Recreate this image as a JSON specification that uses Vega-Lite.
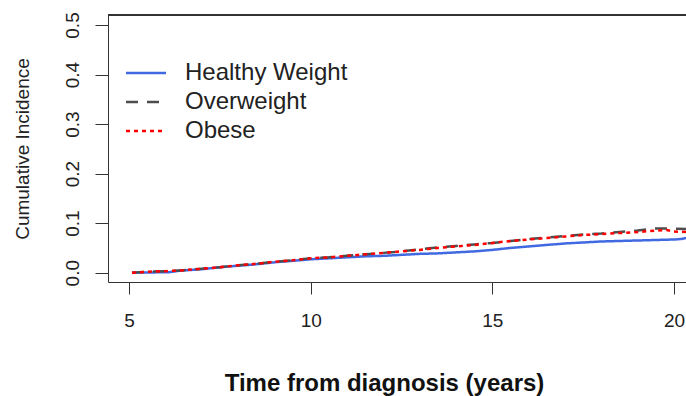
{
  "$schema": "https://vega.github.io/schema/vega-lite/v6.json",
  "width": 578,
  "height": 267,
  "autosize": {"type": "none"},
  "padding": {"left": 108, "top": 15, "right": 0, "bottom": 114},
  "background": "white",
  "config": {
    "view": {"stroke": null},
    "font": "Liberation Sans"
  },
  "data": {
    "values": [
      {"t": 5.08, "ci": 0.0, "group": "Healthy Weight"},
      {"t": 6.1, "ci": 0.001, "group": "Healthy Weight"},
      {"t": 6.4, "ci": 0.004, "group": "Healthy Weight"},
      {"t": 7.0, "ci": 0.007, "group": "Healthy Weight"},
      {"t": 7.5, "ci": 0.011, "group": "Healthy Weight"},
      {"t": 8.0, "ci": 0.014, "group": "Healthy Weight"},
      {"t": 8.5, "ci": 0.017, "group": "Healthy Weight"},
      {"t": 9.0, "ci": 0.021, "group": "Healthy Weight"},
      {"t": 9.5, "ci": 0.024, "group": "Healthy Weight"},
      {"t": 10.0, "ci": 0.027, "group": "Healthy Weight"},
      {"t": 10.5, "ci": 0.029, "group": "Healthy Weight"},
      {"t": 11.0, "ci": 0.031, "group": "Healthy Weight"},
      {"t": 11.5, "ci": 0.033, "group": "Healthy Weight"},
      {"t": 12.0, "ci": 0.034, "group": "Healthy Weight"},
      {"t": 12.5, "ci": 0.036, "group": "Healthy Weight"},
      {"t": 13.0, "ci": 0.038, "group": "Healthy Weight"},
      {"t": 13.5, "ci": 0.039, "group": "Healthy Weight"},
      {"t": 14.0, "ci": 0.041, "group": "Healthy Weight"},
      {"t": 14.5, "ci": 0.043, "group": "Healthy Weight"},
      {"t": 15.0, "ci": 0.046, "group": "Healthy Weight"},
      {"t": 15.5, "ci": 0.05, "group": "Healthy Weight"},
      {"t": 16.0, "ci": 0.053, "group": "Healthy Weight"},
      {"t": 16.5, "ci": 0.056, "group": "Healthy Weight"},
      {"t": 17.0, "ci": 0.059, "group": "Healthy Weight"},
      {"t": 17.5, "ci": 0.061, "group": "Healthy Weight"},
      {"t": 18.0, "ci": 0.063, "group": "Healthy Weight"},
      {"t": 18.5, "ci": 0.064, "group": "Healthy Weight"},
      {"t": 19.0, "ci": 0.065, "group": "Healthy Weight"},
      {"t": 19.5, "ci": 0.066, "group": "Healthy Weight"},
      {"t": 20.0, "ci": 0.067, "group": "Healthy Weight"},
      {"t": 20.2, "ci": 0.068, "group": "Healthy Weight"},
      {"t": 20.4, "ci": 0.071, "group": "Healthy Weight"},
      {"t": 5.08, "ci": 0.0, "group": "Overweight"},
      {"t": 5.5, "ci": 0.002, "group": "Overweight"},
      {"t": 6.0, "ci": 0.003, "group": "Overweight"},
      {"t": 6.5, "ci": 0.005, "group": "Overweight"},
      {"t": 7.0, "ci": 0.008, "group": "Overweight"},
      {"t": 7.5, "ci": 0.011, "group": "Overweight"},
      {"t": 8.0, "ci": 0.015, "group": "Overweight"},
      {"t": 8.5, "ci": 0.018, "group": "Overweight"},
      {"t": 9.0, "ci": 0.022, "group": "Overweight"},
      {"t": 9.5, "ci": 0.025, "group": "Overweight"},
      {"t": 10.0, "ci": 0.029, "group": "Overweight"},
      {"t": 10.5, "ci": 0.031, "group": "Overweight"},
      {"t": 11.0, "ci": 0.034, "group": "Overweight"},
      {"t": 11.5, "ci": 0.037, "group": "Overweight"},
      {"t": 12.0, "ci": 0.04, "group": "Overweight"},
      {"t": 12.5, "ci": 0.043, "group": "Overweight"},
      {"t": 13.0, "ci": 0.047, "group": "Overweight"},
      {"t": 13.5, "ci": 0.051, "group": "Overweight"},
      {"t": 14.0, "ci": 0.054, "group": "Overweight"},
      {"t": 14.5, "ci": 0.057, "group": "Overweight"},
      {"t": 15.0, "ci": 0.06, "group": "Overweight"},
      {"t": 15.5, "ci": 0.064, "group": "Overweight"},
      {"t": 16.0, "ci": 0.068, "group": "Overweight"},
      {"t": 16.5, "ci": 0.071, "group": "Overweight"},
      {"t": 17.0, "ci": 0.074, "group": "Overweight"},
      {"t": 17.5, "ci": 0.077, "group": "Overweight"},
      {"t": 18.0, "ci": 0.079, "group": "Overweight"},
      {"t": 18.5, "ci": 0.082, "group": "Overweight"},
      {"t": 19.0, "ci": 0.085, "group": "Overweight"},
      {"t": 19.4, "ci": 0.089, "group": "Overweight"},
      {"t": 20.0, "ci": 0.089, "group": "Overweight"},
      {"t": 20.4, "ci": 0.088, "group": "Overweight"},
      {"t": 5.08, "ci": 0.0, "group": "Obese"},
      {"t": 5.5, "ci": 0.002, "group": "Obese"},
      {"t": 6.0, "ci": 0.003, "group": "Obese"},
      {"t": 6.5, "ci": 0.005, "group": "Obese"},
      {"t": 7.0, "ci": 0.008, "group": "Obese"},
      {"t": 7.5, "ci": 0.011, "group": "Obese"},
      {"t": 8.0, "ci": 0.015, "group": "Obese"},
      {"t": 8.5, "ci": 0.018, "group": "Obese"},
      {"t": 9.0, "ci": 0.022, "group": "Obese"},
      {"t": 9.5, "ci": 0.025, "group": "Obese"},
      {"t": 10.0, "ci": 0.029, "group": "Obese"},
      {"t": 10.5, "ci": 0.031, "group": "Obese"},
      {"t": 11.0, "ci": 0.034, "group": "Obese"},
      {"t": 11.5, "ci": 0.037, "group": "Obese"},
      {"t": 12.0, "ci": 0.04, "group": "Obese"},
      {"t": 12.5, "ci": 0.043, "group": "Obese"},
      {"t": 13.0, "ci": 0.046, "group": "Obese"},
      {"t": 13.5, "ci": 0.05, "group": "Obese"},
      {"t": 14.0, "ci": 0.053, "group": "Obese"},
      {"t": 14.5, "ci": 0.056, "group": "Obese"},
      {"t": 15.0, "ci": 0.06, "group": "Obese"},
      {"t": 15.5, "ci": 0.064, "group": "Obese"},
      {"t": 16.0, "ci": 0.067, "group": "Obese"},
      {"t": 16.5, "ci": 0.07, "group": "Obese"},
      {"t": 17.0, "ci": 0.073, "group": "Obese"},
      {"t": 17.5, "ci": 0.076, "group": "Obese"},
      {"t": 18.0, "ci": 0.078, "group": "Obese"},
      {"t": 18.5, "ci": 0.08, "group": "Obese"},
      {"t": 19.0, "ci": 0.082, "group": "Obese"},
      {"t": 19.5, "ci": 0.085, "group": "Obese"},
      {"t": 19.8, "ci": 0.086, "group": "Obese"},
      {"t": 20.0, "ci": 0.083, "group": "Obese"},
      {"t": 20.4, "ci": 0.082, "group": "Obese"}
    ]
  },
  "layer": [
    {
      "mark": {"type": "rule", "color": "#333333", "strokeWidth": 1},
      "encoding": {"y": {"datum": 0.5202, "type": "quantitative"}}
    },
    {
      "mark": {"type": "line", "strokeWidth": 2.5, "clip": true, "strokeCap": "butt"},
      "encoding": {
        "x": {
          "field": "t",
          "type": "quantitative",
          "scale": {"domain": [4.42, 20.33], "nice": false, "zero": false},
          "axis": {
            "values": [5, 10, 15, 20],
            "format": "d",
            "grid": false,
            "domainColor": "#333333",
            "tickColor": "#333333",
            "tickSize": 12,
            "labelFont": "Liberation Sans",
            "labelFontSize": 19,
            "labelColor": "#222222",
            "labelPadding": 17,
            "labelBaseline": "top",
            "title": "Time from diagnosis (years)",
            "titleFont": "Liberation Sans",
            "titleFontSize": 24,
            "titleFontWeight": "bold",
            "titleColor": "#111111",
            "titleX": 276,
            "titleY": 108,
            "titleAlign": "center",
            "titleBaseline": "alphabetic",
            "titleAnchor": null
          }
        },
        "y": {
          "field": "ci",
          "type": "quantitative",
          "scale": {"domain": [-0.0188, 0.5202], "nice": false, "zero": false},
          "axis": {
            "values": [0, 0.1, 0.2, 0.3, 0.4, 0.5],
            "format": ".1f",
            "grid": false,
            "domainColor": "#333333",
            "tickColor": "#333333",
            "tickSize": 13,
            "labelFont": "Liberation Sans",
            "labelFontSize": 19,
            "labelColor": "#222222",
            "labelAngle": 270,
            "labelAlign": "center",
            "labelBaseline": "alphabetic",
            "labelPadding": 17,
            "title": "Cumulative Incidence",
            "titleFont": "Liberation Sans",
            "titleFontSize": 19,
            "titleFontWeight": "normal",
            "titleColor": "#222222",
            "titleAngle": 270,
            "titleX": -80,
            "titleY": 133.5,
            "titleAlign": "center",
            "titleBaseline": "alphabetic"
          }
        },
        "color": {
          "field": "group",
          "type": "nominal",
          "scale": {
            "domain": ["Healthy Weight", "Overweight", "Obese"],
            "range": ["#4169E1", "#4D4D4D", "#FF0000"]
          },
          "legend": {
            "title": null,
            "orient": "none",
            "legendX": 26,
            "legendY": 46,
            "padding": 0,
            "symbolType": "M-2,0H2",
            "symbolSize": 400,
            "symbolStrokeWidth": 2.5,
            "labelFont": "Liberation Sans",
            "labelFontSize": 24,
            "labelLimit": 400,
            "labelColor": "#222222",
            "labelOffset": 27,
            "rowPadding": 5
          }
        },
        "strokeDash": {
          "field": "group",
          "type": "nominal",
          "scale": {
            "domain": ["Healthy Weight", "Overweight", "Obese"],
            "range": [[1, 0], [12, 9], [4, 4]]
          },
          "legend": {
            "title": null,
            "orient": "none",
            "legendX": 26,
            "legendY": 46,
            "padding": 0,
            "symbolType": "M-2,0H2",
            "symbolSize": 400,
            "symbolStrokeWidth": 2.5,
            "labelFont": "Liberation Sans",
            "labelFontSize": 24,
            "labelLimit": 400,
            "labelColor": "#222222",
            "labelOffset": 27,
            "rowPadding": 5
          }
        }
      }
    }
  ]
}
